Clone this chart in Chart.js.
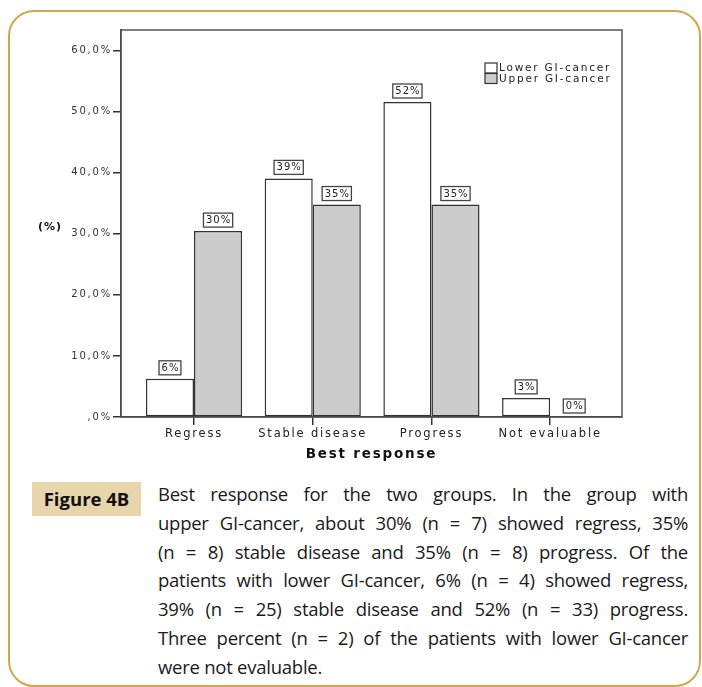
<!DOCTYPE html>
<html>
<head>
<meta charset="utf-8">
<script src="https://cdn.jsdelivr.net/npm/chart.js@4.4.1/dist/chart.umd.min.js"></script>
<style>
  html, body { margin: 0; padding: 0; background: #fff; }
  body { width: 702px; height: 687px; position: relative; overflow: hidden; }
  .frame {
    position: absolute; left: 8px; top: 10px; width: 693px; height: 677px;
    box-sizing: border-box; border: 2px solid #d2a64c; border-radius: 26px;
  }
  .chart-wrap { position: absolute; left: 0; top: 0; width: 702px; height: 470px; }
  .fig-tag {
    position: absolute; left: 32px; top: 482px; width: 109px; height: 34px;
    background: #e8d5ab; color: #111;
    font: bold 18.5px "Open Sans", sans-serif; line-height: 34px; text-align: center;
  }
  .caption {
    position: absolute; left: 158px; top: 480px; width: 530px;
    font: 18.5px "Open Sans", sans-serif; line-height: 28.8px; color: #1a1a1a;
    letter-spacing: -0.25px; word-spacing: -2px;
  }
  .caption div { text-align: justify; text-align-last: justify; white-space: nowrap; }
  .caption div.last { text-align-last: left; word-spacing: 0; }
</style>
</head>
<body>
<div class="frame"></div>
<div class="chart-wrap"><canvas id="chart" width="702" height="470"></canvas></div>
<div class="fig-tag">Figure 4B</div>
<div class="caption">
  <div>Best response for the two groups. In the group with</div>
  <div>upper GI-cancer, about 30% (n = 7) showed regress, 35%</div>
  <div>(n = 8) stable disease and 35% (n = 8) progress. Of the</div>
  <div>patients with lower GI-cancer, 6% (n = 4) showed regress,</div>
  <div>39% (n = 25) stable disease and 52% (n = 33) progress.</div>
  <div>Three percent (n = 2) of the patients with lower GI-cancer</div>
  <div class="last">were not evaluable.</div>
</div>
<script>
// data
const categories = ["Regress", "Stable disease", "Progress", "Not evaluable"];
const lowerGI = [6.25, 39.06, 51.56, 3.13];
const upperGI = [30.43, 34.78, 34.78, 0];
const seriesNames = ["Lower GI-cancer", "Upper GI-cancer"];
const yTicks = [0, 10, 20, 30, 40, 50, 60];

const FONT = '"DejaVu Sans", Verdana, sans-serif';
Chart.defaults.font.family = FONT;

// SPSS export is stretched sideways, so space the letters out
const spacing = {
  id: "spacing",
  beforeDraw(chart) { chart.ctx.letterSpacing = "1.8px"; },
  afterDraw(chart) { chart.ctx.letterSpacing = "0px"; }
};

// frame round the plot area
const plotFrame = {
  id: "plotFrame",
  beforeDatasetsDraw(chart) {
    const { ctx, chartArea: a } = chart;
    ctx.save();
    ctx.strokeStyle = "#555";
    ctx.lineWidth = 1.5;
    ctx.strokeRect(a.left, a.top, a.right - a.left, a.bottom - a.top);
    ctx.restore();
  }
};

// boxed value labels above each bar
const boxLabels = {
  id: "boxLabels",
  afterDatasetsDraw(chart) {
    const ctx = chart.ctx;
    ctx.save();
    ctx.font = "10px " + FONT;
    ctx.letterSpacing = "1px";
    ctx.textAlign = "center";
    ctx.textBaseline = "middle";
    chart.data.datasets.forEach((ds, i) => {
      chart.getDatasetMeta(i).data.forEach((bar, j) => {
        const txt = Math.round(ds.data[j].y) + "%";
        const w = ctx.measureText(txt).width + 4, h = 14;
        const bx = bar.x - w / 2, by = bar.y - 4 - h;
        ctx.fillStyle = "#fff";
        ctx.fillRect(bx, by, w, h);
        ctx.strokeStyle = "#444";
        ctx.lineWidth = 1.3;
        ctx.strokeRect(bx, by, w, h);
        ctx.fillStyle = "#222";
        ctx.fillText(txt, bar.x + 0.5, by + h / 2 + 0.5);
      });
    });
    ctx.restore();
  }
};

// legend inside the plot, top right, plus the "(%)" axis title
const sideTexts = {
  id: "sideTexts",
  afterDraw(chart) {
    const { ctx, chartArea: a } = chart;
    ctx.save();
    ctx.letterSpacing = "1.8px";
    ctx.textBaseline = "middle";
    ctx.font = "10.5px " + FONT;
    const x = a.right - 137, y0 = a.top + 33;
    chart.data.datasets.forEach((ds, i) => {
      const y = y0 + i * 10.5;
      ctx.fillStyle = ds.backgroundColor;
      ctx.fillRect(x, y, 12, 10);
      ctx.strokeStyle = "#333";
      ctx.lineWidth = 1.2;
      ctx.strokeRect(x, y, 12, 10);
      ctx.fillStyle = "#222";
      ctx.fillText(ds.label, x + 14, y + 5.5);
    });
    ctx.font = "bold 11px " + FONT;
    ctx.letterSpacing = "1px";
    ctx.fillStyle = "#111";
    ctx.textAlign = "center";
    ctx.fillText("(%)", 50, 227);
    ctx.restore();
  }
};

new Chart(document.getElementById("chart"), {
  type: "bar",
  data: {
    datasets: [
      {
        label: seriesNames[0],
        data: lowerGI.map((v, i) => ({ x: i, y: v })),
        backgroundColor: "#ffffff",
        borderColor: "#333",
        borderWidth: 1.5,
        borderSkipped: false
      },
      {
        label: seriesNames[1],
        data: upperGI.map((v, i) => ({ x: i, y: v })),
        backgroundColor: "#cccccc",
        borderColor: "#333",
        borderWidth: 1.5,
        borderSkipped: false
      }
    ]
  },
  options: {
    responsive: false,
    animation: false,
    barPercentage: 1,
    categoryPercentage: 0.81,
    layout: { padding: { left: 0, top: 30, right: 80, bottom: 0 } },
    plugins: { legend: { display: false }, tooltip: { enabled: false } },
    scales: {
      x: {
        type: "linear",
        offset: false,
        min: -0.615,
        max: 3.605,
        afterBuildTicks: (s) => { s.ticks = categories.map((c, i) => ({ value: i })); },
        afterFit: (s) => { s.height = 53; },
        ticks: {
          autoSkip: false,
          maxRotation: 0,
          padding: 2,
          color: "#222",
          font: { size: 11.5 },
          callback: (v) => categories[v]
        },
        grid: { offset: false, drawOnChartArea: false, tickLength: 8, color: "#333", lineWidth: 1.5 },
        border: { color: "#333", width: 1.5 },
        title: {
          display: true,
          text: "Best response",
          color: "#111",
          font: { size: 13.5, weight: "bold" },
          padding: { top: 0, bottom: 7 }
        }
      },
      y: {
        min: 0,
        max: 63.35,
        afterBuildTicks: (s) => { s.ticks = yTicks.map((v) => ({ value: v })); },
        afterFit: (s) => { s.width = 121; },
        ticks: {
          padding: 1,
          color: "#333",
          font: { size: 10 },
          callback: (v) => (v === 0 ? ",0%" : v.toFixed(1).replace(".", ",") + "%")
        },
        grid: { drawOnChartArea: false, tickLength: 8, color: "#333", lineWidth: 1.5 },
        border: { color: "#333", width: 1.5 }
      }
    }
  },
  plugins: [spacing, plotFrame, boxLabels, sideTexts]
});
</script>
</body>
</html>
